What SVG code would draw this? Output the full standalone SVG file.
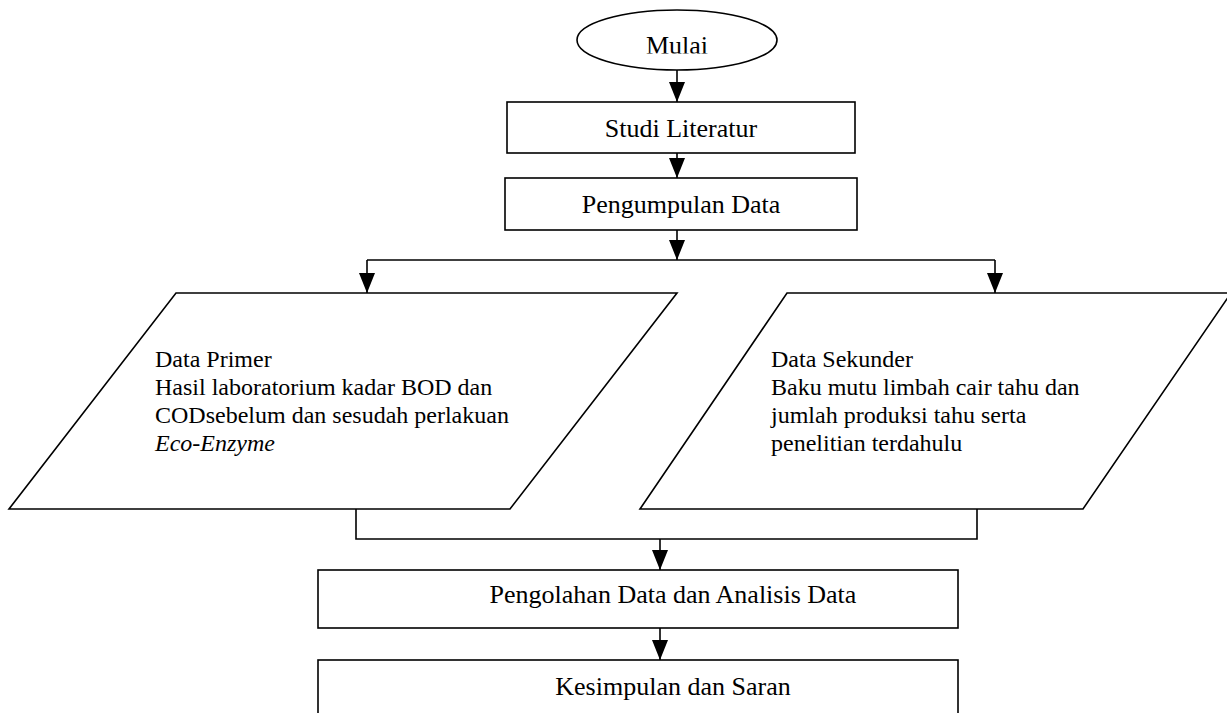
<svg xmlns="http://www.w3.org/2000/svg" width="1227" height="713" viewBox="0 0 1227 713">
<style>
.s{fill:#fff;stroke:#000;stroke-width:1.6}
.c{fill:none;stroke:#000;stroke-width:1.6}
.t{font-family:"Liberation Serif","Times New Roman",serif;font-size:24px;fill:#000}
.b{font-size:26px}
.m{text-anchor:middle}
</style>
<defs>
<marker id="ad" markerUnits="userSpaceOnUse" markerWidth="16" markerHeight="20" viewBox="0 0 16 20" refX="8" refY="20" orient="0">
<path d="M0,0 L16,0 L8,20 Z" fill="#000"/>
</marker>
<clipPath id="cm"><rect x="577" y="10" width="200" height="43.5"/></clipPath>
</defs>
<g id="mulai">
<ellipse class="s" cx="677" cy="40" rx="100" ry="30"/>
<text class="t b m" x="677" y="54" clip-path="url(#cm)">Mulai</text>
</g>
<g id="studi">
<rect class="s" x="507" y="102" width="348" height="51"/>
<text class="t b m" x="681" y="137">Studi Literatur</text>
</g>
<g id="pengumpulan">
<rect class="s" x="505" y="178" width="352" height="52"/>
<text class="t b m" x="681" y="213">Pengumpulan Data</text>
</g>
<g id="primer">
<polygon class="s" points="176,293 677,293 510,509 9,509"/>
<text class="t" x="155" y="367">Data Primer</text>
<text class="t" x="155" y="395">Hasil laboratorium kadar BOD dan</text>
<text class="t" x="155" y="423">CODsebelum dan sesudah perlakuan</text>
<text class="t" x="155" y="451" font-style="italic">Eco-Enzyme</text>
</g>
<g id="sekunder">
<polygon class="s" points="787,293 1231,293 1083,509 640,509"/>
<text class="t" x="771" y="367">Data Sekunder</text>
<text class="t" x="771" y="395">Baku mutu limbah cair tahu dan</text>
<text class="t" x="771" y="423">jumlah produksi tahu serta</text>
<text class="t" x="771" y="451">penelitian terdahulu</text>
</g>
<g id="pengolahan">
<rect class="s" x="318" y="570" width="640" height="58"/>
<text class="t b m" x="673" y="603">Pengolahan Data dan Analisis Data</text>
</g>
<g id="kesimpulan">
<rect class="s" x="318" y="660" width="640" height="70"/>
<text class="t b m" x="673" y="695">Kesimpulan dan Saran</text>
</g>
<g id="connectors">
<line class="c" x1="677" y1="70" x2="677" y2="102" marker-end="url(#ad)"/>
<line class="c" x1="677" y1="153" x2="677" y2="178" marker-end="url(#ad)"/>
<line class="c" x1="677" y1="230" x2="677" y2="260" marker-end="url(#ad)"/>
<polyline class="c" points="367,260 995,260"/>
<line class="c" x1="367" y1="260" x2="367" y2="293" marker-end="url(#ad)"/>
<line class="c" x1="995" y1="260" x2="995" y2="293" marker-end="url(#ad)"/>
<polyline class="c" points="356,509 356,539 977,539 977,509"/>
<line class="c" x1="660" y1="539" x2="660" y2="570" marker-end="url(#ad)"/>
<line class="c" x1="660" y1="628" x2="660" y2="660" marker-end="url(#ad)"/>
</g>
</svg>
